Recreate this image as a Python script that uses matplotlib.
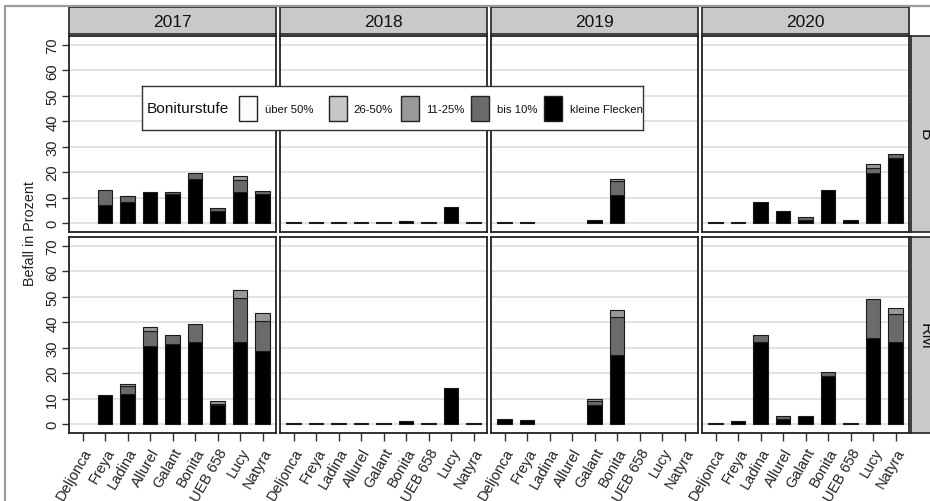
import numpy as np
import matplotlib
matplotlib.use('Agg')
import matplotlib.pyplot as plt
from matplotlib.patches import Rectangle
from matplotlib import font_manager

nan = np.nan

sorten = ['Deljonca', 'Freya', 'Ladina', 'Allurel', 'Galant', 'Bonita', 'UEB 658', 'Lucy', 'Natyra']
jahre = ['2017', '2018', '2019', '2020']
orte = ['B', 'RM']
stufen = ['über 50%', '26-50%', '11-25%', 'bis 10%', 'kleine Flecken']
farben = ['#fbfbfb', '#c8c8c8', '#999999', '#6b6b6b', '#000000']

# Befall in Prozent je Boniturstufe, nan = kein Balken
# Standort B
b_klein = {
    '2017': [nan, 7.3, 8.3, 12.3, 11.4, 17.3, 4.6, 12.3, 11.4],
    '2018': [0.3, 0.3, 0.3, 0.3, 0.3, 1.0, 0.3, 6.5, 0.3],
    '2019': [0.5, 0.3, nan, nan, 1.3, 11.1, nan, nan, nan],
    '2020': [0.3, 0.6, 8.4, 4.7, 1.4, 12.9, 1.4, 19.7, 25.5],
}
b_bis10 = {
    '2017': [0, 5.8, 2.2, 0, 0.9, 2.4, 1.2, 4.8, 1.3],
    '2018': [0, 0, 0, 0, 0, 0, 0, 0, 0],
    '2019': [0, 0, 0, 0, 0, 5.5, 0, 0, 0],
    '2020': [0, 0, 0, 0, 0.8, 0, 0, 1.8, 1.5],
}
b_11_25 = {
    '2017': [0, 0, 0, 0, 0, 0, 0, 1.5, 0],
    '2018': [0, 0, 0, 0, 0, 0, 0, 0, 0],
    '2019': [0, 0, 0, 0, 0, 0.7, 0, 0, 0],
    '2020': [0, 0, 0, 0, 0, 0, 0, 1.8, 0],
}
# Standort RM
rm_klein = {
    '2017': [nan, 11.4, 11.8, 30.6, 31.5, 32.3, 7.5, 32.3, 28.7],
    '2018': [0.3, 0.3, 0.3, 0.3, 0.6, 1.2, 0.3, 14.3, 0.6],
    '2019': [2.1, 1.7, nan, nan, 7.5, 27.3, nan, nan, nan],
    '2020': [0.4, 1.3, 32.4, 2.0, 3.0, 18.8, 0.4, 33.7, 32.4],
}
rm_bis10 = {
    '2017': [0, 0, 3.2, 6.0, 3.4, 7.0, 0.4, 17.1, 11.9],
    '2018': [0, 0, 0, 0, 0, 0, 0, 0, 0],
    '2019': [0, 0, 0, 0, 1.5, 14.6, 0, 0, 0],
    '2020': [0, 0, 2.6, 1.0, 0, 1.7, 0, 15.3, 11.0],
}
rm_11_25 = {
    '2017': [0, 0, 0.7, 1.6, 0, 0, 1.0, 3.2, 3.0],
    '2018': [0, 0, 0, 0, 0, 0, 0, 0, 0],
    '2019': [0, 0, 0, 0, 0.7, 3.1, 0, 0, 0],
    '2020': [0, 0, 0, 0, 0, 0, 0, 0, 2.4],
}
daten = {'B': (b_klein, b_bis10, b_11_25), 'RM': (rm_klein, rm_bis10, rm_11_25)}

# schriften
namen = {f.name for f in font_manager.fontManager.ttflist}
schmal = 'Liberation Sans Narrow' in namen
plt.rcParams['font.family'] = ['Liberation Sans', 'DejaVu Sans']
schmal_fam = ['Liberation Sans Narrow', 'Liberation Sans'] if schmal else ['Liberation Sans']
f = 1.0 if schmal else 0.82

W, H = 930, 502
fig = plt.figure(figsize=(W / 100, H / 100), dpi=100)


def box(x0, y0, x1, y1):
    return [x0 / W, 1 - y1 / H, (x1 - x0) / W, (y1 - y0) / H]


# grauer rahmen um alles
fig.add_artist(Rectangle((5 / W, -0.1), 1.1, 1 - 7 / H + 0.1, transform=fig.transFigure,
                         fill=False, edgecolor='#9a9a9a', lw=1.6))

spalten = [(69, 276), (280, 487), (491, 698), (702, 909)]
zeilen = [(37, 233), (238, 434)]
x = np.arange(1, len(sorten) + 1)

for r, ort in enumerate(orte):
    klein, bis10, m11 = daten[ort]
    y0, y1 = zeilen[r]
    for c, jahr in enumerate(jahre):
        x0, x1 = spalten[c]
        ax = fig.add_axes(box(x0, y0, x1, y1))
        k = np.array(klein[jahr], dtype=float)
        b1 = np.array(bis10[jahr], dtype=float)
        b2 = np.array(m11[jahr], dtype=float)
        ok = ~np.isnan(k)
        for yy in range(0, 80, 10):
            ax.axhline(yy, color='#dadada', lw=1.1, zorder=0)
        ax.bar(x[ok], k[ok], width=0.65, color='black', edgecolor='#1a1a1a', lw=0.8, zorder=2)
        m = ok & (b1 > 0)
        ax.bar(x[m], b1[m], bottom=k[m], width=0.65, color=farben[3],
               edgecolor='#1a1a1a', lw=0.8, zorder=2)
        m = ok & (b2 > 0)
        ax.bar(x[m], b2[m], bottom=k[m] + b1[m], width=0.65, color=farben[2],
               edgecolor='#1a1a1a', lw=0.8, zorder=2)
        ax.set_xlim(0.4, 9.6)
        ax.set_ylim(-3.5, 73.5)
        for s in ax.spines.values():
            s.set_linewidth(1.3)
            s.set_color('#222222')
        ax.set_yticks(range(0, 80, 10))
        ax.set_xticks(x)
        if c == 0:
            ax.set_yticklabels([str(v) for v in range(0, 80, 10)], rotation=90, va='center',
                               fontsize=13 * f, family=schmal_fam, color='#222222')
            ax.tick_params(axis='y', length=5, width=1, color='#333333', pad=2)
        else:
            ax.tick_params(axis='y', length=0, labelleft=False)
        if r == 1:
            ax.set_xticklabels(sorten, rotation=60, ha='right', va='top', rotation_mode='anchor',
                               fontsize=10.5, color='#222222')
            ax.tick_params(axis='x', length=6, width=1, color='#333333', pad=3)
        else:
            ax.tick_params(axis='x', length=0, labelbottom=False)

        # streifen oben mit jahr
        if r == 0:
            st = fig.add_axes(box(x0, 8, x1, 35))
            st.set_facecolor('#c9c9c9')
            st.set_xticks([])
            st.set_yticks([])
            for s in st.spines.values():
                s.set_linewidth(1.2)
                s.set_color('#222222')
            st.text(0.5, 0.47, jahr, ha='center', va='center', fontsize=12.5,
                    color='#111111', transform=st.transAxes)

    # streifen rechts mit ort
    st = fig.add_axes(box(911, y0, 940, y1))
    st.set_facecolor('#c9c9c9')
    st.set_xticks([])
    st.set_yticks([])
    for s in st.spines.values():
        s.set_linewidth(1.2)
        s.set_color('#222222')
    st.text(0.5, 0.5, ort, rotation=-90, ha='center', va='center', fontsize=12.5,
            color='#111111', transform=st.transAxes)

fig.text(30 / W, 1 - 234 / H, 'Befall in Prozent', rotation=90, ha='center', va='center',
         fontsize=12.5 * f, family=schmal_fam, color='#222222')

# legende
lg = fig.add_axes(box(142, 87, 643, 131))
lg.set_xlim(142, 643)
lg.set_ylim(131, 87)
lg.set_xticks([])
lg.set_yticks([])
for s in lg.spines.values():
    s.set_linewidth(1.0)
    s.set_color('#333333')
lg.set_zorder(5)
lg.text(147, 109, 'Boniturstufe', ha='left', va='center', fontsize=13.5 * f,
        family=schmal_fam, color='#111111')
key_x = [239, 329, 401, 471, 544]
lab_x = [265, 353, 426, 497, 570]
for i, name in enumerate(stufen):
    lg.add_patch(Rectangle((key_x[i], 97), 18, 25, facecolor=farben[i], edgecolor='#222222', lw=1.0))
    lg.text(lab_x[i], 110, name, ha='left', va='center', fontsize=10 * f,
            family=schmal_fam, color='#111111')

fig.savefig('out.png', dpi=100)
